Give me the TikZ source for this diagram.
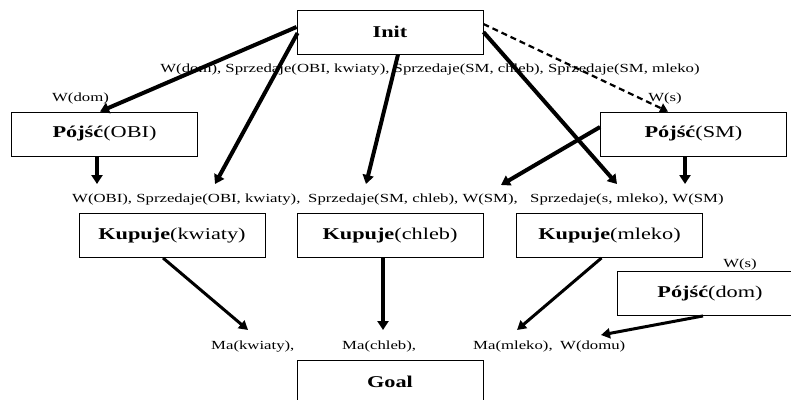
\documentclass[tikz,border=0pt]{standalone}
\usepackage{fontspec}
\setmainfont{Liberation Serif}[FakeStretch=1.35]
\usetikzlibrary{arrows.meta}
\begin{document}
\begin{tikzpicture}[x=1pt,y=-1pt,
  actbox/.style={draw,line width=0.9pt,minimum width=186pt,minimum height=44pt,inner sep=0pt,
    font=\fontsize{16.5}{18}\selectfont},
  fact/.style={inner sep=0pt,font=\fontsize{12.4}{14}\selectfont},
  link/.style={line width=4pt,-{Triangle[length=9pt,width=11pt]}},
  thinlink/.style={line width=3pt,-{Triangle[length=9pt,width=10pt]}},
  threat/.style={line width=2.2pt,dash pattern=on 6pt off 4pt,-{Triangle[length=8pt,width=10pt]}}]
\useasboundingbox (0,0) rectangle (791,399);
\clip (0,0) rectangle (791,399);

% actions
\node[actbox] (init)  at (390,32)    {\textbf{Init}};
\node[actbox] (pobi)  at (104.5,134) {\textbf{Pójść}(OBI)};
\node[actbox] (psm)   at (693.5,134) {\textbf{Pójść}(SM)};
\node[actbox] (kkw)   at (172,235.5) {\textbf{Kupuje}(kwiaty)};
\node[actbox] (kch)   at (390,235.5) {\textbf{Kupuje}(chleb)};
\node[actbox] (kml)   at (609.5,235.5) {\textbf{Kupuje}(mleko)};
\node[actbox] (pdom)  at (710,293.5) {\textbf{Pójść}(dom)};
\node[actbox] (goal)  at (390,382)   {\textbf{Goal}};

% effects and preconditions
\node[fact,anchor=base] (initfx) at (430,72) {W(dom), Sprzedaje(OBI, kwiaty), Sprzedaje(SM, chleb), Sprzedaje(SM, mleko)};
\node[fact,anchor=base] (wdom) at (80.5,101) {W(dom)};
\node[fact,anchor=base] (ws1)  at (665,101) {W(s)};
\node[fact,anchor=base west] (prekw) at (72,202)  {W(OBI), Sprzedaje(OBI, kwiaty),};
\node[fact,anchor=base west] (prech) at (308,202) {Sprzedaje(SM, chleb), W(SM),};
\node[fact,anchor=base west] (preml) at (530,202) {Sprzedaje(s, mleko), W(SM)};
\node[fact,anchor=base] (ws2)  at (740,267) {W(s)};
\node[fact,anchor=base west] (makw) at (211,349) {Ma(kwiaty),};
\node[fact,anchor=base west] (mach) at (342,349) {Ma(chleb),};
\node[fact,anchor=base west] (maml) at (473,349) {Ma(mleko),};
\node[fact,anchor=base west] (wdomu) at (560,349) {W(domu)};

% arrow tips at the conditions they support
\coordinate (tkw)  at (215,184);
\coordinate (tch)  at (366,184);
\coordinate (tml)  at (617,184);
\coordinate (tpo)  at (97,184);
\coordinate (tsm1) at (501,185);
\coordinate (tsm2) at (685,184);
\coordinate (gkw)  at (248,330);
\coordinate (gch)  at (383,330);
\coordinate (gml)  at (517,330);
\coordinate (gdo)  at (601,335);

% causal links
\draw[link] ([yshift=5pt]init.west) -- ([xshift=-4.5pt]pobi.north);
\draw[link] ([shift={(1pt,-1pt)}]init.west) -- (tkw);
\draw[link] ([xshift=8pt]init.south) -- (tch);
\draw[link] (init.east) -- (tml);
\draw[threat] ([yshift=8pt]init.east) -- ([xshift=-25.5pt]psm.north);
\draw[link] ([xshift=-7.5pt]pobi.south) -- (tpo);
\draw[link] ([yshift=7pt]psm.west) -- (tsm1);
\draw[link] ([xshift=-8.5pt]psm.south) -- (tsm2);
\draw[thinlink] ([xshift=-9pt]kkw.south) -- (gkw);
\draw[link] ([xshift=-7pt]kch.south) -- (gch);
\draw[thinlink] ([xshift=-8pt]kml.south) -- (gml);
\draw[thinlink] ([xshift=-7pt]pdom.south) -- (gdo);
\end{tikzpicture}
\end{document}
